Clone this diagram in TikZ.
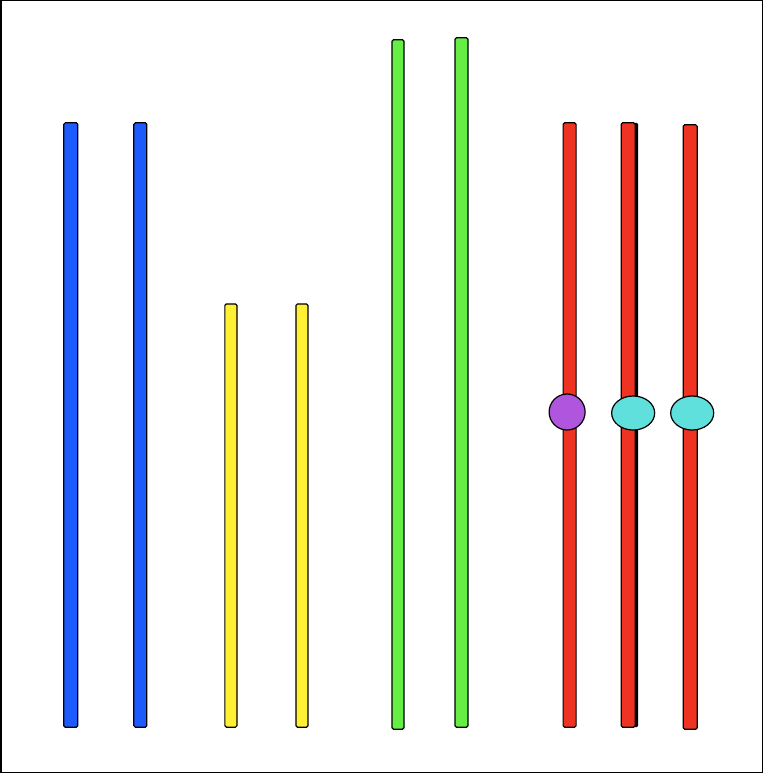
\documentclass[tikz,border=0pt]{standalone}
\usetikzlibrary{shapes.geometric}
\definecolor{barblue}{HTML}{1E5BFF}
\definecolor{baryellow}{HTML}{FFF033}
\definecolor{bargreen}{HTML}{66EE44}
\definecolor{barred}{HTML}{EE3322}
\definecolor{knobpurple}{HTML}{B055DD}
\definecolor{knobcyan}{HTML}{60E0DC}
\begin{document}
\begin{tikzpicture}
        [x=1pt,y=-1pt,
        bar/.style={draw=black,line width=1.2pt,rounded corners=1.5pt},
        knob/.style={draw=black,ellipse,line width=1.2pt,inner sep=0pt}]
        % frame
        \draw[line width=1.5pt] (1,1) rectangle (762,772);
        % bars: left, right, top, bottom, colour
        \foreach \l/\r/\t/\b/\c in {64/78/123/727/barblue, 134/147/123/727/barblue,
            225/237/304/727/baryellow, 296/308/304/727/baryellow,
            392/404/40/729/bargreen, 455/468/38/727/bargreen,
            563/576/123/727/barred, 683/697/125/729/barred}
          \draw[bar,fill=\c] (\l,\t) rectangle (\r,\b);
        \fill[black,rounded corners=1.5pt] (624,123) rectangle (638,727);
        \draw[bar,fill=barred] (621,123) rectangle (635,727);
        % knobs
        \node[knob,fill=knobpurple,minimum width=36pt,minimum height=36pt] (k1) at (567,412) {};
        \node[knob,fill=knobcyan,minimum width=43pt,minimum height=34pt] (k2) at (633,413) {};
        \node[knob,fill=knobcyan,minimum width=43pt,minimum height=34pt] (k3) at (692,413) {};
\end{tikzpicture}
\end{document}
